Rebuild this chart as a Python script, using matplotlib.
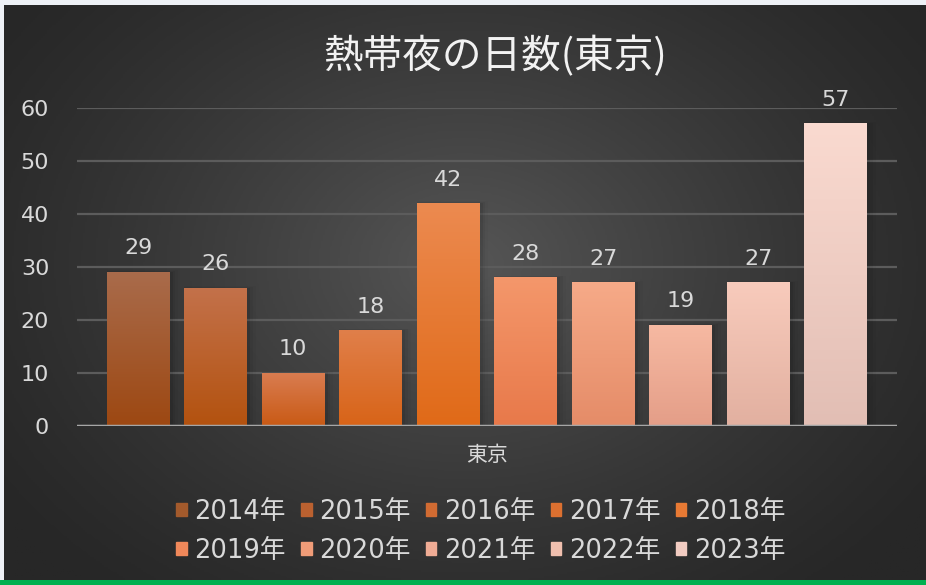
import matplotlib
matplotlib.use('Agg')
import matplotlib.pyplot as plt
import numpy as np
from matplotlib.colors import LinearSegmentedColormap
from matplotlib.patches import Patch, Rectangle

plt.rcParams['font.family'] = ['DejaVu Sans', 'Noto Sans CJK JP']

title = '熱帯夜の日数(東京)'
category = '東京'
years = ['2014年', '2015年', '2016年', '2017年', '2018年',
         '2019年', '2020年', '2021年', '2022年', '2023年']
values = [29, 26, 10, 18, 42, 28, 27, 19, 27, 57]
# top / bottom colour of each bar's gradient
top_colors = ['#a96b4b', '#c3714a', '#d97c50', '#e07f4a', '#ec8a50',
              '#f4976b', '#f6aa88', '#f6b9a2', '#f8cbbc', '#fadad0']
bottom_colors = ['#9d4812', '#b3520f', '#c95a15', '#d86418', '#e06a18',
                 '#e8794a', '#e58c68', '#e49e88', '#e2b0a0', '#e2beb4']
legend_colors = ['#a35a2c', '#bb6130', '#d16b32', '#dc7030', '#e87a34',
                 '#f0885a', '#f09c78', '#f0ac95', '#f0bfae', '#f2ccc2']
yticks = [0, 10, 20, 30, 40, 50, 60]

fig = plt.figure(figsize=(9.26, 5.85), dpi=100)
fig.patch.set_facecolor('#eef1f6')

# dark panel with a soft radial glow
bg = fig.add_axes([4 / 926, 5 / 585, 922 / 926, 575 / 585])
yy, xx = np.mgrid[0:1:300j, 0:1:480j]
r = np.sqrt(((xx - 0.5) / 0.62) ** 2 + ((yy - 0.45) / 0.75) ** 2)
glow = np.clip(1 - r, 0, 1) ** 1.3
bg_cmap = LinearSegmentedColormap.from_list('bg', ['#272727', '#565656'])
bg.imshow(glow, cmap=bg_cmap, aspect='auto', extent=[0, 1, 0, 1], vmin=0, vmax=1)
bg.set_axis_off()

# green strip at the bottom
strip = fig.add_axes([0, 0, 1, 5 / 585])
strip.set_axis_off()
strip.add_patch(Rectangle((0, 0), 1, 1, color='#00b050', transform=strip.transAxes))

ax = fig.add_axes([77 / 926, (585 - 426) / 585, 820 / 926, 318 / 585])
ax.set_facecolor('none')

x = np.arange(len(values))
width = 0.81

for i, v in enumerate(values):
    # soft shadow to the right / top
    for k, a in enumerate([0.07, 0.045, 0.025]):
        d = 0.025 * (k + 1)
        ax.add_patch(Rectangle((x[i] - width / 2, 0), width + d * 1.5, v + d * 5,
                               color='black', alpha=a, lw=0, zorder=2))
    cmap = LinearSegmentedColormap.from_list('b%d' % i, [bottom_colors[i], top_colors[i]])
    grad = np.linspace(0, 1, 100).reshape(-1, 1)
    ax.imshow(grad, cmap=cmap, origin='lower', aspect='auto',
              extent=[x[i] - width / 2, x[i] + width / 2, 0, v], zorder=3)
    ax.annotate(str(v), (x[i], v), xytext=(0, 10), textcoords='offset points',
                ha='center', va='bottom', color='#d9d9d9', fontsize=16)

ax.set_xlim(-0.79, len(values) - 1 + 0.79)
ax.set_ylim(0, 60)

ax.set_yticks(yticks)
ax.set_yticklabels([str(t) for t in yticks], color='#d9d9d9', fontsize=16)
ax.tick_params(axis='y', length=0, pad=20)
ax.set_xticks([])
ax.yaxis.grid(True, color='#5c5c5c', lw=1.6, zorder=1)
ax.set_axisbelow(True)
for s in ax.spines.values():
    s.set_visible(False)
ax.axhline(0, color='#a6a6a6', lw=2.5, zorder=4)

fig.text(495 / 926, 1 - 57 / 585, title, ha='center', va='center', color='#f2f2f2', fontsize=28.5,
         family=['Noto Sans CJK JP'])
fig.text(487 / 926, 1 - 455 / 585, category, ha='center', va='center', color='#d9d9d9',
         fontsize=15, family=['Noto Sans CJK JP'])

handles = [Patch(color=c, label=y) for c, y in zip(legend_colors, years)]
order = [0, 5, 1, 6, 2, 7, 3, 8, 4, 9]
leg = fig.legend([handles[i] for i in order], [years[i] for i in order],
                 loc='center', bbox_to_anchor=(481 / 926, 1 - 531.5 / 585), ncol=5,
                 frameon=False, fontsize=18.5, handlelength=0.4, handleheight=0.4,
                 handletextpad=0.3, columnspacing=0.6, labelspacing=0.5)
for t in leg.get_texts():
    t.set_color('#d9d9d9')

fig.savefig('out.png', dpi=100, facecolor=fig.get_facecolor())
